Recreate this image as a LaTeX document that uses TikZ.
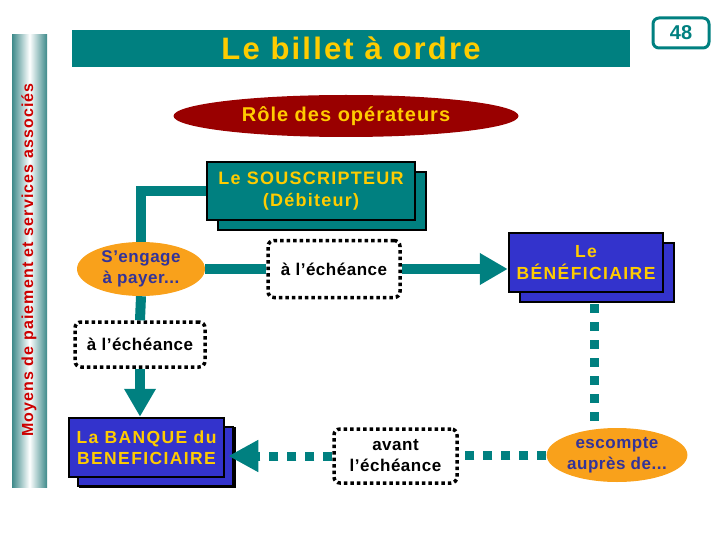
\documentclass[tikz,border=0pt]{standalone}
\usepackage{fontspec}
\setmainfont{Liberation Sans}
\usetikzlibrary{arrows.meta,shapes.geometric,shadows,calc}
\definecolor{tealc}{HTML}{008080}
\definecolor{barc}{HTML}{3E8A8A}
\definecolor{darkred}{HTML}{990000}
\definecolor{yel}{HTML}{FFCC00}
\definecolor{orng}{HTML}{F9A11B}
\definecolor{bluebox}{HTML}{3333CC}
\definecolor{dblue}{HTML}{333399}
\definecolor{redtxt}{HTML}{CC0000}
\newcommand\lsp[1]{\addfontfeature{LetterSpace=#1}}
\begin{document}
\begin{tikzpicture}[x=1pt,y=-1pt,
  txt/.style={font=\fontsize{17}{21}\selectfont\bfseries\lsp{3}},
  captxt/.style={font=\fontsize{17.5}{21.5}\selectfont\bfseries\lsp{8}},
  mainbox/.style={rectangle, draw=black, line width=2.5pt, inner sep=0pt, align=center, captxt, text=yel,
     copy shadow={shadow xshift=11pt, shadow yshift=-10pt}},
  oval/.style={ellipse, inner sep=0pt, align=center, txt},
  dotbox/.style={rectangle, rounded corners=6pt, draw=black, line width=3.5pt, dash pattern=on 3.5pt off 3pt,
     fill=white, inner sep=0pt, align=center, txt, text=black},
  conn/.style={draw=tealc, line width=10pt},
  dots/.style={draw=tealc, line width=9pt, dash pattern=on 9pt off 9pt},
  bigtip/.style={-{Triangle[width=30pt,length=28pt]}}
]
\useasboundingbox (0,0) rectangle (720,540);

% side bar
\shade[left color=barc, right color=barc, middle color=white] (12,35) rectangle (47,487);
\node[rotate=90, text=redtxt, font=\fontsize{16}{18}\selectfont\bfseries\lsp{7}] (side) at (29,260)
  {Moyens de paiement et services associés};

% title
\node[rectangle, fill=tealc, minimum width=558pt, minimum height=37pt, inner sep=0pt, text=yel,
  font=\fontsize{31}{33}\selectfont\bfseries\lsp{7}] (title) at (351,48.5) {Le billet à ordre};
\node[rectangle, rounded corners=6pt, draw=tealc, line width=3pt, fill=white, minimum width=56pt,
  minimum height=30pt, inner sep=0pt, text=tealc, font=\fontsize{20}{22}\selectfont\bfseries] (num) at (681,33) {48};

% nodes
\node[oval, fill=darkred, text=yel, minimum width=345pt, minimum height=42pt,
  font=\fontsize{20}{22}\selectfont\bfseries\lsp{5}] (role) at (346,116) {Rôle des opérateurs};
\node[mainbox, fill=tealc, minimum width=208pt, minimum height=58pt,
  font=\fontsize{18}{22}\selectfont\bfseries\lsp{7}] (sous) at (311,191) {Le SOUSCRIPTEUR\\(Débiteur)};
\node[oval, fill=orng, text=dblue, minimum width=128pt, minimum height=54pt] (seng) at (141,269) {S’engage\\à payer...};
\node[dotbox, minimum width=132pt, minimum height=57pt] (ech2) at (334,269) {à l’échéance};
\node[mainbox, fill=bluebox, minimum width=154pt, minimum height=59pt] (benef) at (586,262.5) {Le\\BÉNÉFICIAIRE};
\node[dotbox, minimum width=130pt, minimum height=45pt] (ech1) at (140,344.5) {à l’échéance};
\node[mainbox, fill=bluebox, minimum width=155pt, minimum height=59pt,
  copy shadow={shadow xshift=9pt, shadow yshift=-9pt}] (banque) at (146.5,447.5) {La BANQUE du\\BENEFICIAIRE};
\node[dotbox, minimum width=123pt, minimum height=54pt] (avant) at (395.5,456) {avant\\l’échéance};
\node[oval, fill=orng, text=dblue, minimum width=140pt, minimum height=54pt] (esc) at (617,455) {escompte\\auprès de...};

% connectors
\draw[conn] (sous.west) -| (seng.north);
\draw[conn] (seng.south) -- (ech1.north);
\draw[conn, bigtip] (ech1.south) -- (ech1.south |- banque.north);
\draw[conn] (seng.east) -- (seng.east -| ech2.west);
\draw[conn, bigtip] (ech2.east) -- (ech2.east -| benef.west);
\draw[dots] ([xshift=8pt,yshift=-11pt]benef.south) -- ([xshift=8pt]benef.south |- esc.north);
\draw[dots] (esc.west) -- (esc.west -| avant.east);
\draw[dots, -{Triangle[width=30pt,length=30pt]}] (avant.west) -- ([xshift=3pt]banque.east |- avant.west);
\end{tikzpicture}
\end{document}
